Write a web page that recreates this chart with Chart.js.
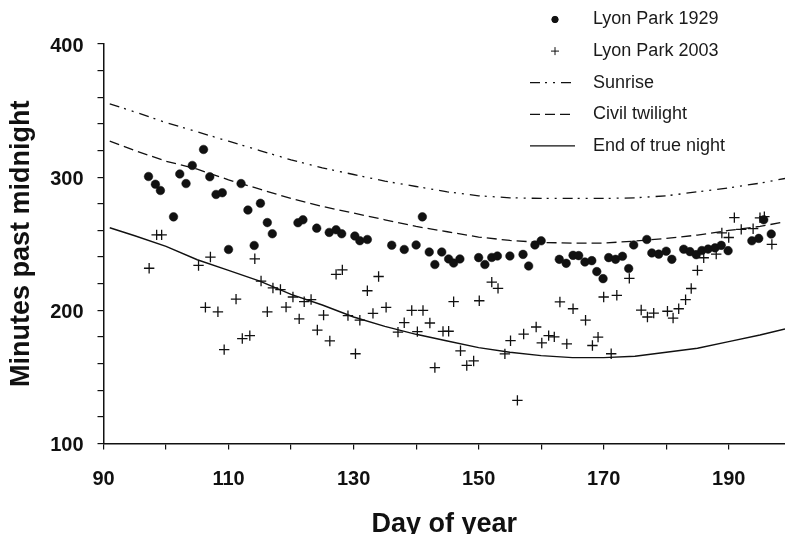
<!DOCTYPE html>
<html>
<head>
<meta charset="utf-8">
<script src="https://cdn.jsdelivr.net/npm/chart.js@4.4.1/dist/chart.umd.min.js"></script>
<style>
  body { margin: 0; background: #fff; }
  canvas { display: block; }
</style>
</head>
<body>
<canvas id="myChart" width="785" height="534"></canvas>
<script>
// Lyon Park 1929 (dots)
const days_1929 = [97.2, 98.3, 99.1, 101.2, 102.2, 103.2, 104.2, 106.0, 107.0, 108.0, 109.0, 110.0,
    112.0, 113.1, 114.1, 115.1, 116.2, 117.0, 121.1, 121.9, 124.1, 126.1, 127.2, 128.1, 130.2, 131.0,
    132.2, 136.1, 138.1, 140.0, 141.0, 142.1, 143.0, 144.1, 145.2, 146.0, 147.0, 150.0, 151.0, 152.1,
    153.0, 155.0, 157.1, 158.0, 159.0, 160.0, 162.9, 164.0, 165.1, 166.0, 167.0, 168.1, 168.9, 169.9,
    170.8, 171.9, 173.0, 174.0, 174.8, 176.9, 177.7, 178.8, 180.0, 180.9, 182.8, 183.8, 184.8, 185.7,
    186.7, 187.8, 188.8, 189.9, 193.7, 194.8, 195.6, 196.8]
const mins_1929 = [300.5, 294.7, 290, 270.2, 302.4, 295.2, 308.8, 320.8, 300.3, 287, 288.3, 245.7,
    295.2, 275.3, 248.7, 280.4, 265.9, 257.5, 265.8, 268, 261.7, 258.5, 260.5, 257.5, 255.8, 252.3,
    253.2, 248.9, 245.7, 249.1, 270.2, 243.8, 234.4, 243.8, 238.6, 235.5, 238.6, 239.6, 234.4, 239.7,
    240.8, 240.8, 242, 233.3, 249.1, 252.2, 238.3, 235.3, 241.3, 241.1, 236.3, 237.3, 229.1, 223.8,
    239.6, 238.3, 240.6, 231.4, 249.1, 253.2, 243.1, 242.2, 244.4, 238.3, 245.9, 244.1, 241.8, 244.9,
    246, 246.9, 248.8, 244.8, 252.2, 254, 268, 257.3]

// Lyon Park 2003 (crosses)
const days_2003 = [97.3, 98.5, 99.3, 105.2, 106.3, 107.1, 108.3, 109.3, 111.2, 112.2, 113.4, 114.2,
    115.2, 116.2, 117.1, 118.3, 119.2, 120.3, 121.3, 122.1, 123.2, 124.2, 125.2, 126.2, 127.2, 128.2,
    129.1, 130.3, 131.0, 132.2, 133.1, 134.0, 135.2, 137.1, 138.1, 139.3, 140.2, 141.1, 142.2, 143.0,
    144.3, 145.2, 146.0, 147.1, 148.1, 149.2, 150.1, 152.1, 153.1, 154.2, 155.1, 156.2, 157.2, 159.2,
    160.1, 161.2, 162.1, 163.0, 164.1, 165.1, 167.1, 168.2, 169.1, 170.0, 171.2, 172.1, 174.1, 176.0,
    177.0, 178.0, 180.2, 181.1, 182.0, 183.1, 184.0, 185.0, 186.0, 188.0, 188.9, 190.0, 190.9, 192.0,
    193.9, 195.0, 195.7, 196.9]
const mins_2003 = [231.6, 256.7, 256.7, 233.7, 202.2, 240, 198.9, 170.5, 208.4, 178.8, 181, 238.7,
    222, 198.9, 216.8, 215.6, 202.4, 210, 193.6, 206.5, 208.1, 185.2, 196.4, 177, 227, 230.4,
    196, 167.4, 192.6, 214.7, 197.7, 225.4, 202.2, 183.6, 190.7, 199.9, 184, 199.9, 190.5, 157,
    184.2, 184.3, 206.5, 169.6, 158.6, 162, 207.2, 221.2, 216.5, 167.3, 177.2, 132.4, 182.2, 187.5,
    175.5, 181, 180.1, 206.3, 174.8, 201.2, 192.6, 173.6, 179.9, 210, 167.4, 211.3, 224, 200.2,
    195, 197.9, 199.3, 194.2, 201.2, 208, 216.4, 230, 239.5, 242.2, 258.1, 254.7, 269.6, 260.8,
    261.3, 269.5, 270.3, 249.5]

// reference curves
const curve_days = [91, 95, 100, 105, 110, 115, 120, 125, 130, 135, 140, 145, 150, 155, 160, 165,
    170, 175, 180, 185, 190, 195, 199]
const sunrise = [355, 349, 341, 334, 327, 320, 313, 307, 302, 297, 293, 289, 286, 284.5, 284, 284,
    284, 284.5, 286, 289, 292, 295.5, 299]
const civil_twilight = [327, 320, 312, 306, 298, 291, 284, 278, 273, 268, 263, 259, 255, 252.5, 251,
    250.5, 250.5, 252, 254, 256.5, 260, 263, 266.5]
const true_night = [262, 256, 248, 238, 230, 222, 212, 204, 195, 188, 182, 177, 172, 168.5, 166,
    164.5, 164.5, 165.5, 168.5, 171.5, 176.5, 181.5, 186]

const x_ticks = [90, 110, 130, 150, 170, 190]
const y_ticks = [100, 200, 300, 400]

function pairs(xs, ys) {
    let out = []
    for (let i = 0; i < xs.length; i++) {
        out.push({x: xs[i], y: ys[i]})
    }
    return out
}

const font_family = '"Liberation Sans", Arial, Helvetica, sans-serif'
const ink = '#111'

const legend_plugin = {
    id: 'side_legend',
    afterDraw(chart) {
        const ctx = chart.ctx
        ctx.save()
        ctx.font = '18px ' + font_family
        ctx.textBaseline = 'middle'
        ctx.textAlign = 'left'
        chart.data.datasets.forEach((ds, i) => {
            const y = 19.5 + i * 31.6
            ctx.strokeStyle = ds.borderColor
            ctx.fillStyle = ds.backgroundColor
            if (ds.showLine) {
                ctx.lineWidth = ds.borderWidth
                ctx.setLineDash(ds.borderDash || [])
                ctx.beginPath()
                ctx.moveTo(530, y)
                ctx.lineTo(575, y)
                ctx.stroke()
                ctx.setLineDash([])
            } else {
                Chart.helpers.drawPoint(ctx, {
                    pointStyle: ds.pointStyle,
                    radius: ds.pointStyle === 'cross' ? 4 : 3.2,
                    borderWidth: 1,
                    rotation: 0
                }, 555, y)
            }
            ctx.fillStyle = '#1a1a1a'
            ctx.fillText(ds.label, 593, y)
        })
        ctx.restore()
    }
}

const ctx = document.getElementById('myChart')
const myChart = new Chart(ctx, {
    type: 'scatter',
    data: {
        datasets: [{
            label: 'Lyon Park 1929',
            data: pairs(days_1929, mins_1929),
            pointStyle: 'circle',
            pointRadius: 4.3,
            borderWidth: 0.5,
            borderColor: ink,
            backgroundColor: ink,
            showLine: false
        }, {
            label: 'Lyon Park 2003',
            data: pairs(days_2003, mins_2003),
            pointStyle: 'cross',
            pointRadius: 5.2,
            borderWidth: 1.3,
            borderColor: ink,
            backgroundColor: ink,
            showLine: false
        }, {
            label: 'Sunrise',
            data: pairs(curve_days, sunrise),
            showLine: true,
            pointRadius: 0,
            borderWidth: 1.3,
            borderDash: [10, 5, 2, 6, 2, 6],
            borderColor: ink,
            backgroundColor: ink
        }, {
            label: 'Civil twilight',
            data: pairs(curve_days, civil_twilight),
            showLine: true,
            pointRadius: 0,
            borderWidth: 1.3,
            borderDash: [10, 5],
            borderColor: ink,
            backgroundColor: ink
        }, {
            label: 'End of true night',
            data: pairs(curve_days, true_night),
            showLine: true,
            pointRadius: 0,
            borderWidth: 1.4,
            borderColor: ink,
            backgroundColor: ink
        }]
    },
    options: {
        responsive: false,
        animation: false,
        devicePixelRatio: 1,
        layout: {
            autoPadding: false,
            padding: {top: 44, right: 0, bottom: 0, left: 0}
        },
        plugins: {
            legend: {display: false},
            tooltip: {enabled: false}
        },
        scales: {
            x: {
                type: 'linear',
                min: 90,
                max: 199,
                afterFit: (scale) => {
                    scale.height = 90.5
                    scale.paddingLeft = 0
                    scale.paddingRight = 0
                },
                border: {display: true, color: ink, width: 1.5},
                grid: {drawOnChartArea: false, drawTicks: true, tickLength: 6, color: ink, lineWidth: 1.2},
                ticks: {
                    stepSize: 10,
                    includeBounds: false,
                    autoSkip: false,
                    maxRotation: 0,
                    padding: 18,
                    color: ink,
                    font: {family: font_family, size: 20, weight: 'bold'},
                    callback: (v) => x_ticks.includes(v) ? String(v) : ''
                },
                title: {
                    display: true,
                    text: 'Day of year',
                    color: ink,
                    padding: 0,
                    font: {family: font_family, size: 27, weight: 'bold', lineHeight: 0.7}
                }
            },
            y: {
                type: 'linear',
                min: 100,
                max: 400,
                afterFit: (scale) => {
                    scale.width = 103.5
                    scale.paddingTop = 0
                    scale.paddingBottom = 0
                },
                border: {display: true, color: ink, width: 1.5},
                grid: {drawOnChartArea: false, drawTicks: true, tickLength: 6, color: ink, lineWidth: 1.2},
                ticks: {
                    stepSize: 20,
                    autoSkip: false,
                    padding: 14,
                    labelOffset: 2,
                    color: ink,
                    font: {family: font_family, size: 20, weight: 'bold'},
                    callback: (v) => y_ticks.includes(v) ? String(v) : ''
                },
                title: {
                    display: true,
                    text: 'Minutes past midnight',
                    color: ink,
                    padding: {top: 5, bottom: 0},
                    font: {family: font_family, size: 27, weight: 'bold'}
                }
            }
        }
    },
    plugins: [legend_plugin]
})
</script>
</body>
</html>
